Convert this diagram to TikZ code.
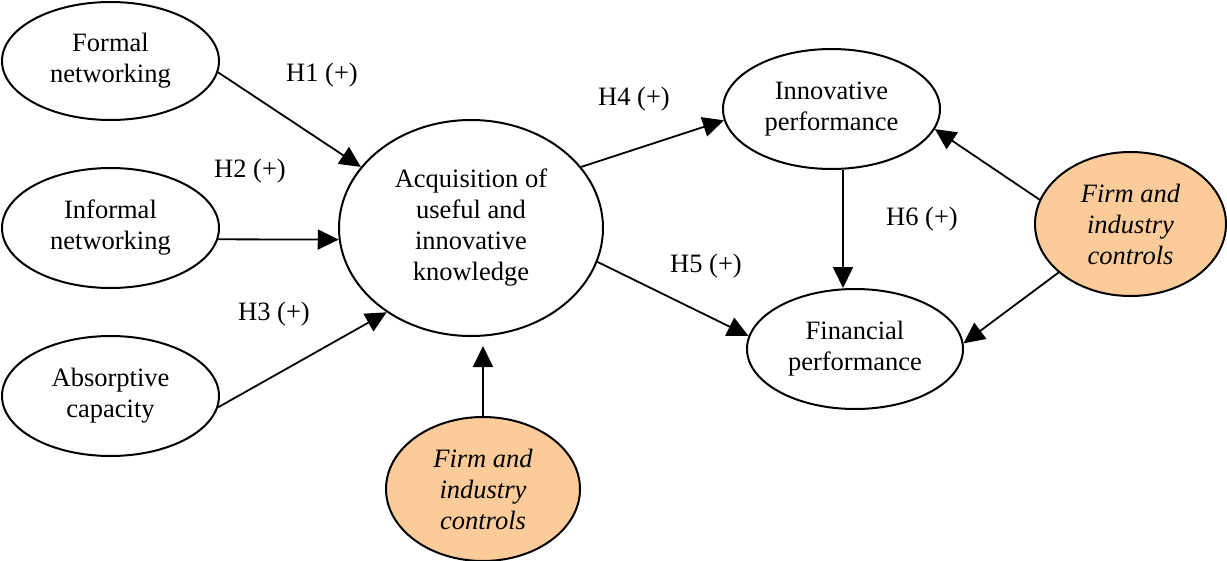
\documentclass[tikz,border=0pt]{standalone}
\usepackage{fontspec}
\setmainfont{Liberation Serif}
\usetikzlibrary{shapes.geometric,arrows.meta}
\definecolor{ctrlfill}{RGB}{251,203,154}
\begin{document}
\begin{tikzpicture}[x=1pt,y=-1pt,
  construct/.style={ellipse,draw,line width=2pt,inner sep=0pt,align=center,
    font=\fontsize{26.5}{31}\selectfont},
  control/.style={construct,fill=ctrlfill,font=\fontsize{26.5}{31}\selectfont\itshape},
  link/.style={line width=1.8pt,-{Triangle[length=21pt,width=20pt]}},
  hyp/.style={font=\fontsize{26.5}{31}\selectfont}]
\useasboundingbox (0,0) rectangle (1227,560);

% constructs
\node[construct,minimum width=217pt,minimum height=118pt] (formal) at (110.5,61) {Formal\\networking};
\node[construct,minimum width=217pt,minimum height=120pt] (informal) at (110.5,228) {Informal\\networking};
\node[construct,minimum width=217pt,minimum height=120pt] (absorb) at (110.5,396) {Absorptive\\capacity};
\node[construct,minimum width=264pt,minimum height=216pt] (acq) at (471,228) {Acquisition of\\useful and\\innovative\\knowledge};
\node[construct,minimum width=217pt,minimum height=120pt] (innov) at (831.5,109) {Innovative\\performance};
\node[construct,minimum width=216pt,minimum height=120pt] (fin) at (855,349) {Financial\\performance};

% control variables
\node[control,minimum width=194pt,minimum height=144pt] (ctrlB) at (483,489) {Firm and\\industry\\controls};
\node[control,minimum width=191pt,minimum height=144pt] (ctrlR) at (1130.5,224) {Firm and\\industry\\controls};

% hypothesised paths
\draw[link] (formal.-6.3) -- (acq.151);
\draw[link] (informal.-6.9) -- (acq.185.6);
\draw[link] (absorb.-6.9) -- (acq.225.2);
\draw[link] (acq.29) -- (innov.186.3);
\draw[link] (acq.-15.3) -- (fin.173.1);
\draw[link] ([xshift=11.5pt]innov.south) -- ([xshift=11.5pt]innov.south |- fin.north);

% control paths
\draw[link,shorten >=9pt] (ctrlB.north) -- (ctrlB.north |- acq.south);
\draw[link] (ctrlR.165.7) -- (innov.-11);
\draw[link] (ctrlR.214) -- (fin.3.1);

% hypothesis labels
\node[hyp] (h1) at (322,75) {H1 (+)};
\node[hyp] (h2) at (250,171) {H2 (+)};
\node[hyp] (h3) at (274,314) {H3 (+)};
\node[hyp] (h4) at (634,99) {H4 (+)};
\node[hyp] (h5) at (706,266) {H5 (+)};
\node[hyp] (h6) at (922,219) {H6 (+)};
\end{tikzpicture}
\end{document}
